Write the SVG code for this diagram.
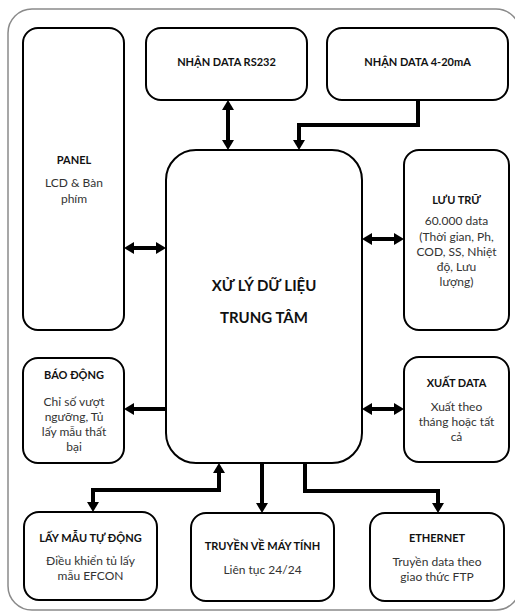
<svg xmlns="http://www.w3.org/2000/svg" width="515" height="612" viewBox="0 0 515 612">
  <style>
    .box { fill: #fff; stroke: #000; stroke-width: 2; }
    .frame { fill: #fff; stroke: #8a8a8a; stroke-width: 1.5; }
    .title { font-family: Lato, "Noto Sans", sans-serif; font-weight: bold; font-size: 11px; fill: #111; text-anchor: middle; }
    .body { font-family: Lato, "Noto Sans", sans-serif; font-size: 12px; fill: #333; text-anchor: middle; }
    .main { font-family: Lato, "Noto Sans", sans-serif; font-weight: bold; font-size: 15px; fill: #111; text-anchor: middle; }
    .wire { fill: none; stroke: #000; stroke-width: 4; stroke-linejoin: miter; }
  </style>
  <defs>
    <marker id="head" viewBox="0 0 10 12" markerWidth="10" markerHeight="12" markerUnits="userSpaceOnUse" refX="5" refY="6" orient="auto-start-reverse">
      <path d="M0,0 L10,6 L0,12 Z" fill="#000"/>
    </marker>
  </defs>

  <!-- outer frame -->
  <rect class="frame" x="8" y="9" width="512" height="601" rx="24"/>

  <g id="panel">
    <rect class="box" x="23" y="28" width="101" height="302" rx="15"/>
    <text class="title" x="74" y="164">PANEL</text>
    <text class="body" x="74" y="187">LCD &amp; Bàn</text>
    <text class="body" x="74" y="203">phím</text>
  </g>

  <g id="rs232">
    <rect class="box" x="146" y="28" width="161" height="72" rx="15"/>
    <text class="title" x="226.5" y="66">NHẬN DATA RS232</text>
  </g>

  <g id="analog">
    <rect class="box" x="327" y="28" width="181" height="72" rx="15"/>
    <text class="title" x="417.5" y="66">NHẬN DATA 4-20mA</text>
  </g>

  <g id="cpu">
    <rect class="box" x="166" y="150" width="196" height="313" rx="30"/>
    <text class="main" x="264" y="291">XỬ LÝ DỮ LIỆU</text>
    <text class="main" x="264" y="323">TRUNG TÂM</text>
  </g>

  <g id="storage">
    <rect class="box" x="404" y="150" width="105" height="180" rx="15"/>
    <text class="title" x="456.5" y="204">LƯU TRỮ</text>
    <text class="body" x="456.5" y="225">60.000 data</text>
    <text class="body" x="456.5" y="241">(Thời gian, Ph,</text>
    <text class="body" x="456.5" y="256">COD, SS, Nhiệt</text>
    <text class="body" x="456.5" y="271">độ, Lưu</text>
    <text class="body" x="456.5" y="286">lượng)</text>
  </g>

  <g id="alarm">
    <rect class="box" x="23" y="358" width="101" height="105" rx="15"/>
    <text class="title" x="74" y="379">BÁO ĐỘNG</text>
    <text class="body" x="74" y="406">Chỉ số vượt</text>
    <text class="body" x="74" y="421">ngưỡng, Tủ</text>
    <text class="body" x="74" y="436">lấy mẫu thất</text>
    <text class="body" x="74" y="451">bại</text>
  </g>

  <g id="export">
    <rect class="box" x="404" y="357" width="105" height="105" rx="15"/>
    <text class="title" x="456.5" y="387">XUẤT DATA</text>
    <text class="body" x="456.5" y="411">Xuất theo</text>
    <text class="body" x="456.5" y="426">tháng hoặc tất</text>
    <text class="body" x="456.5" y="441">cả</text>
  </g>

  <g id="sampler">
    <rect class="box" x="24" y="512" width="133" height="88" rx="15"/>
    <text class="title" x="90.5" y="542">LẤY MẪU TỰ ĐỘNG</text>
    <text class="body" x="90.5" y="565">Điều khiển tủ lấy</text>
    <text class="body" x="90.5" y="580">mẫu EFCON</text>
  </g>

  <g id="pc">
    <rect class="box" x="191" y="513" width="143" height="88" rx="15"/>
    <text class="title" x="262.5" y="550">TRUYỀN VỀ MÁY TÍNH</text>
    <text class="body" x="262.5" y="574">Liên tục 24/24</text>
  </g>

  <g id="ethernet">
    <rect class="box" x="370" y="513" width="134" height="88" rx="15"/>
    <text class="title" x="437" y="542">ETHERNET</text>
    <text class="body" x="437" y="566">Truyền data theo</text>
    <text class="body" x="437" y="581">giao thức FTP</text>
  </g>

  <g id="connectors">
    <path class="wire" d="M228,105 V145" marker-start="url(#head)" marker-end="url(#head)"/>
    <path class="wire" d="M418,100 V125 H299 V145" marker-end="url(#head)"/>
    <path class="wire" d="M129,248 H161" marker-start="url(#head)" marker-end="url(#head)"/>
    <path class="wire" d="M367,239 H399" marker-start="url(#head)" marker-end="url(#head)"/>
    <path class="wire" d="M166,409 H129" marker-end="url(#head)"/>
    <path class="wire" d="M367,409 H399" marker-start="url(#head)" marker-end="url(#head)"/>
    <path class="wire" d="M219,468 V490 H93 V507" marker-start="url(#head)" marker-end="url(#head)"/>
    <path class="wire" d="M262,463 V508" marker-end="url(#head)"/>
    <path class="wire" d="M305,463 V491 H438 V508" marker-end="url(#head)"/>
  </g>
</svg>
